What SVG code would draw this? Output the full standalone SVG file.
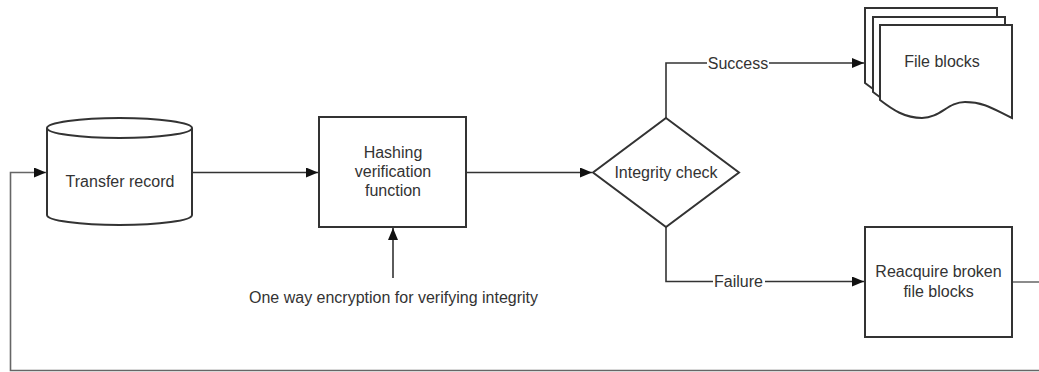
<svg xmlns="http://www.w3.org/2000/svg" width="1039" height="372" viewBox="0 0 1039 372">
  <style>
    .shape { fill: #ffffff; stroke: #333333; stroke-width: 2; }
    .conn { fill: none; stroke: #333333; stroke-width: 1.6; }
    .ret { stroke: #666666; }
    .txt { font-family: "Liberation Sans", Arial, sans-serif; font-size: 16px; fill: #333333; text-anchor: middle; }
    .lblbg { fill: #ffffff; }
  </style>
  <defs>
    <marker id="arrow" viewBox="0 0 12 10" refX="12" refY="5" markerWidth="12" markerHeight="10" markerUnits="userSpaceOnUse" orient="auto">
      <path d="M0,0 L12,5 L0,10 Z" fill="#111111"/>
    </marker>
    <path id="doc" d="M880,25 H1012 V118 C995,110 985,102 965,102 C948,102 940,118 922,118 C905,118 893,110 880,100 Z"/>
  </defs>

  <g id="connectors">
    <path class="conn" d="M192,172.5 H318" marker-end="url(#arrow)"/>
    <path class="conn" d="M466,172.5 H592" marker-end="url(#arrow)"/>
    <path class="conn" d="M393,278 V228" marker-end="url(#arrow)"/>
    <path class="conn" d="M666,118 V63 H864" marker-end="url(#arrow)"/>
    <path class="conn" d="M666,227 V281.5 H864" marker-end="url(#arrow)"/>
    <path class="conn ret" d="M1012,282 H1045 V370.5 H10.5 V172.5 H46" marker-end="url(#arrow)"/>
    <rect class="lblbg" x="707" y="54" width="62" height="18"/>
    <text class="txt" x="738" y="68.5">Success</text>
    <rect class="lblbg" x="713" y="272" width="52" height="18"/>
    <text class="txt" x="738.5" y="286.5">Failure</text>
  </g>

  <g id="transfer-record">
    <path class="shape" d="M47,128 V215 A72.5,10 0 0 0 192,215 V128"/>
    <ellipse class="shape" cx="119.5" cy="128" rx="72.5" ry="10"/>
    <text class="txt" x="120" y="187">Transfer record</text>
  </g>

  <g id="hashing-function">
    <rect class="shape" x="319" y="117" width="147" height="110"/>
    <text class="txt" x="393" y="157.5">Hashing</text>
    <text class="txt" x="393" y="176.7">verification</text>
    <text class="txt" x="393" y="196">function</text>
  </g>

  <g id="encryption-note">
    <text class="txt" x="393.5" y="303">One way encryption for verifying integrity</text>
  </g>

  <g id="integrity-check">
    <path class="shape" d="M666,118 L739,172.5 L666,227 L593,172.5 Z"/>
    <text class="txt" x="666" y="177.5">Integrity check</text>
  </g>

  <g id="file-blocks">
    <use href="#doc" class="shape" transform="translate(-15,-17)"/>
    <use href="#doc" class="shape" transform="translate(-7,-8)"/>
    <use href="#doc" class="shape"/>
    <text class="txt" x="942" y="67">File blocks</text>
  </g>

  <g id="reacquire">
    <rect class="shape" x="865" y="227" width="147" height="110"/>
    <text class="txt" x="938.5" y="277">Reacquire broken</text>
    <text class="txt" x="938.5" y="296.5">file blocks</text>
  </g>
</svg>
